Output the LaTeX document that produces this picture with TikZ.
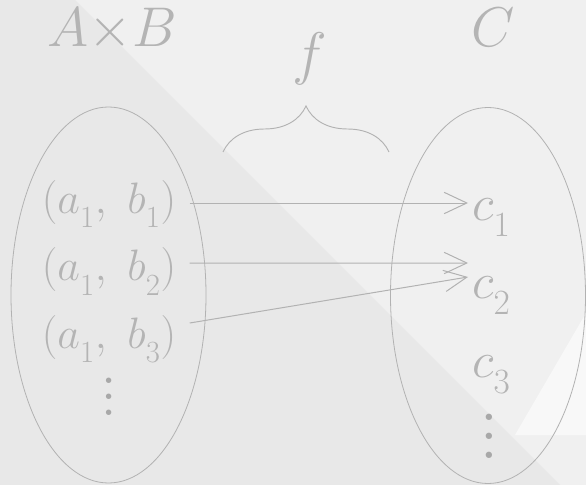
\RequirePackage{fix-cm}
\documentclass[tikz,border=0pt]{standalone}
\usetikzlibrary{arrows.meta,calc,decorations.pathreplacing}
\definecolor{paper}{HTML}{F0F0F0}
\definecolor{hatchgrey}{HTML}{E8E8E8}
\definecolor{glare}{HTML}{F8F8F8}
\definecolor{ink}{HTML}{B4B4B4}
\definecolor{wire}{HTML}{B2B2B2}
\definecolor{dotgrey}{HTML}{A8A8A8}
\newcommand{\lowsub}[1]{_{\raisebox{-.18em}{$\scriptstyle #1$}}}

\begin{document}
\begin{tikzpicture}[x=.75pt,y=-.75pt,text=ink,>={Straight Barb[length=17pt,width=16pt]},
  tup/.style={anchor=base,inner xsep=10pt,font=\fontsize{33}{40}\selectfont},
  img/.style={anchor=base west,inner sep=3pt,font=\fontsize{38}{45}\selectfont},
  title/.style={anchor=base,font=\fontsize{42}{50}\selectfont},
  vdot/.style={anchor=base,text=dotgrey,font=\fontsize{14}{16}\selectfont}]
  \fill[paper] (0,0) rectangle (586,485);
  \fill[hatchgrey] (0,0) -- (75,0) -- (560,485) -- (0,485) -- cycle;
  \fill[glare] (586,313) -- (515,435) -- (586,435) -- cycle;
  \useasboundingbox (0,0) rectangle (586,485);

  % Domain and codomain
  \draw[wire,line width=.6pt] (108.5,295) ellipse [x radius=97.5,y radius=188];
  \draw[wire,line width=.6pt] (488,295.5) ellipse [x radius=97.5,y radius=188];
  \node[title] (AB) at (112,47) {$A{\times}B$};
  \node[title] (C) at (493,47) {$C$};

  % Pairs on the left
  \node[tup] (t1) at (109,213) {$(a\lowsub1,\ b\lowsub1)$};
  \node[tup] (t2) at (109,280.5) {$(a\lowsub1,\ b\lowsub2)$};
  \node[tup] (t3) at (109,348) {$(a\lowsub1,\ b\lowsub3)$};
  \node[vdot,scale=3] (ldots) at (109,415) {$\vdots$};

  % Images on the right
  \node[img] (c1) at (468,220) {$c\lowsub1$};
  \node[img] (c2) at (468,298) {$c\lowsub2$};
  \node[img] (c3) at (468,377) {$c\lowsub3$};
  \node[vdot,scale=3.5] (rdots) at (489,458) {$\vdots$};

  % The map
  \coordinate (bl) at (223,152);
  \coordinate (br) at (389,152);
  \draw[wire,line width=.7pt,decorate,decoration={brace,amplitude=34.5pt}]
    (bl) -- (br);
  \node[title,font=\fontsize{44}{52}\selectfont] (f) at (310,74) {$f$};
  \draw[wire,line width=.75pt,->] ([yshift=7.5pt]t1.base east) -- ([yshift=12.75pt]c1.base west);
  \draw[wire,line width=.75pt,->] ([yshift=13.1pt]t2.base east) -- ([yshift=26.25pt]c2.base west);
  \draw[wire,line width=.75pt,->] ([yshift=18.75pt]t3.base east) -- ([yshift=15.75pt]c2.base west);
\end{tikzpicture}
\end{document}
